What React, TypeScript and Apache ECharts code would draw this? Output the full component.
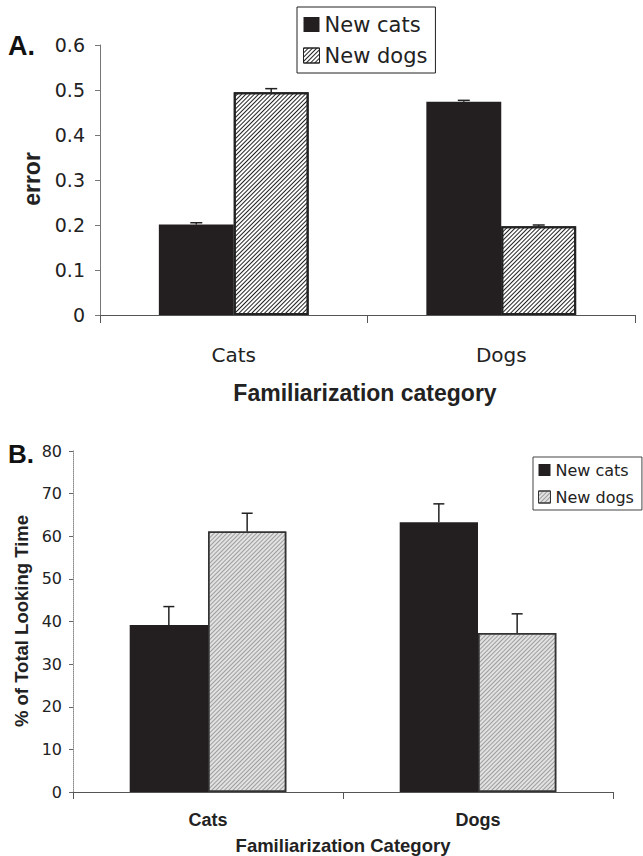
import React, { useEffect, useRef } from "react";
import * as echarts from "echarts";

const categories = ["Cats", "Dogs"];
const seriesNames = ["New cats", "New dogs"];

// Panel A: error
const errorNewCats = [0.201, 0.474];
const errorNewCatsSE = [0.004, 0.003];
const errorNewDogs = [0.495, 0.197];
const errorNewDogsSE = [0.008, 0.003];

// Panel B: % of total looking time
const lookNewCats = [39.2, 63.3];
const lookNewCatsSE = [4.3, 4.3];
const lookNewDogs = [61.1, 37.3];
const lookNewDogsSE = [4.3, 4.5];

const REG = "DejaVu Sans";
const BOLD = "Liberation Sans";
const INK = "#231f20";

const hatchA = {
  symbol: "rect",
  dashArrayX: [1, 0],
  dashArrayY: [1, 1.2],
  rotation: -Math.PI / 4,
  color: "#222",
};
const hatchB = {
  symbol: "rect",
  dashArrayX: [1, 0],
  dashArrayY: [1, 1.2],
  rotation: -Math.PI / 4,
  color: "rgba(90,90,90,0.5)",
};

function errSeries(
  name: string,
  xAxisIndex: number,
  vals: number[],
  errs: number[],
  side: number,
  gap: number,
  cap: number
) {
  return {
    type: "custom",
    name: name + " SE",
    xAxisIndex,
    yAxisIndex: xAxisIndex,
    z: 5,
    silent: true,
    data: vals.map((v, i) => [i, v, errs[i]]),
    renderItem: (params: any, api: any) => {
      const i = api.value(0);
      const v = api.value(1);
      const e = api.value(2);
      const band = api.size([1, 0])[0];
      const barW = (band * (1 - gap)) / 2;
      const p0 = api.coord([i, v]);
      const p1 = api.coord([i, v + e]);
      const x = p0[0] + (side * barW) / 2;
      return {
        type: "group",
        children: [
          {
            type: "line",
            shape: { x1: x, y1: p0[1], x2: x, y2: p1[1] },
            style: { stroke: "#222", lineWidth: 1.5 },
          },
          {
            type: "line",
            shape: { x1: x - cap / 2, y1: p1[1], x2: x + cap / 2, y2: p1[1] },
            style: { stroke: "#222", lineWidth: 1.5 },
          },
        ],
      };
    },
  };
}

export default function App() {
  const ref = useRef<HTMLDivElement>(null);
  useEffect(() => {
    if (!ref.current) return;
    const chart = echarts.init(ref.current, null, { renderer: "svg" });
    const gapA = 0.44;
    const gapB = 0.42;
    chart.setOption({
      animation: false,
      backgroundColor: "#fff",
      grid: [
        { left: 100, top: 45, width: 535, height: 270 },
        { left: 73, top: 451, width: 540, height: 341 },
      ],
      legend: [
        {
          left: 297,
          top: 7,
          orient: "vertical",
          icon: "rect",
          itemWidth: 16,
          itemHeight: 15,
          itemGap: 10,
          padding: [7, 8, 7, 6],
          borderColor: "#222",
          borderWidth: 1,
          textStyle: { fontFamily: REG, fontSize: 21, color: "#222" },
          data: [
            { name: "New cats", icon: "rect", itemStyle: { color: INK, borderWidth: 0 } },
            {
              name: "New dogs",
              icon: "rect",
              itemStyle: { color: "#fff", decal: hatchA, borderColor: "#222", borderWidth: 1 },
            },
          ],
        },
        {
          left: 533,
          top: 457,
          orient: "vertical",
          icon: "rect",
          itemWidth: 12,
          itemHeight: 12,
          itemGap: 11,
          padding: [5, 8, 5, 5],
          borderColor: "#444",
          borderWidth: 1,
          textStyle: { fontFamily: REG, fontSize: 16, color: "#222" },
          data: [
            { name: "New cats", icon: "rect", itemStyle: { color: INK, borderWidth: 0 } },
            {
              name: "New dogs",
              icon: "rect",
              itemStyle: { color: "#e2e2e2", decal: hatchB, borderColor: "#333", borderWidth: 1 },
            },
          ],
        },
      ],
      xAxis: [
        {
          type: "category",
          gridIndex: 0,
          data: categories,
          axisLine: { lineStyle: { color: "#555", width: 1 } },
          axisTick: { show: true, alignWithLabel: false, length: 8, lineStyle: { color: "#555" } },
          axisLabel: { fontFamily: REG, fontSize: 20, color: "#222", margin: 30 },
        },
        {
          type: "category",
          gridIndex: 1,
          data: categories,
          axisLine: { lineStyle: { color: "#555", width: 1 } },
          axisTick: { show: true, alignWithLabel: false, length: 7, lineStyle: { color: "#555" } },
          axisLabel: { fontFamily: BOLD, fontWeight: "bold", fontSize: 18, color: "#222", margin: 19 },
        },
      ],
      yAxis: [
        {
          type: "value",
          gridIndex: 0,
          min: 0,
          max: 0.6,
          interval: 0.1,
          splitLine: { show: false },
          axisLine: { show: true, lineStyle: { color: "#777", width: 1 } },
          axisTick: { show: true, length: 5, lineStyle: { color: "#777" } },
          axisLabel: {
            fontFamily: REG,
            fontSize: 19,
            color: "#222",
            margin: 15,
            formatter: (v: number) => (v === 0 ? "0" : v.toFixed(1)),
          },
        },
        {
          type: "value",
          gridIndex: 1,
          min: 0,
          max: 80,
          interval: 10,
          splitLine: { show: false },
          axisLine: { show: true, lineStyle: { color: "#888", width: 1, type: "dotted" } },
          axisTick: { show: true, length: 4, lineStyle: { color: "#666" } },
          axisLabel: { fontFamily: REG, fontSize: 16, color: "#222", margin: 11 },
        },
      ],
      series: [
        {
          type: "bar",
          name: seriesNames[0],
          xAxisIndex: 0,
          yAxisIndex: 0,
          data: errorNewCats,
          barGap: "0%",
          barCategoryGap: "44%",
          itemStyle: { color: INK },
        },
        {
          type: "bar",
          name: seriesNames[1],
          xAxisIndex: 0,
          yAxisIndex: 0,
          data: errorNewDogs,
          barGap: "0%",
          barCategoryGap: "44%",
          itemStyle: { color: "#fff", decal: hatchA, borderColor: "#222", borderWidth: 2 },
        },
        {
          type: "bar",
          name: seriesNames[0],
          xAxisIndex: 1,
          yAxisIndex: 1,
          data: lookNewCats,
          barGap: "0%",
          barCategoryGap: "42%",
          itemStyle: { color: INK },
        },
        {
          type: "bar",
          name: seriesNames[1],
          xAxisIndex: 1,
          yAxisIndex: 1,
          data: lookNewDogs,
          barGap: "0%",
          barCategoryGap: "42%",
          itemStyle: { color: "#e2e2e2", decal: hatchB, borderColor: "#333", borderWidth: 1.5 },
        },
        errSeries(seriesNames[0], 0, errorNewCats, errorNewCatsSE, -1, gapA, 12),
        errSeries(seriesNames[1], 0, errorNewDogs, errorNewDogsSE, 1, gapA, 12),
        errSeries(seriesNames[0], 1, lookNewCats, lookNewCatsSE, -1, gapB, 11),
        errSeries(seriesNames[1], 1, lookNewDogs, lookNewDogsSE, 1, gapB, 11),
      ],
      graphic: [
        {
          type: "text",
          x: 8,
          y: 46,
          style: { text: "A.", font: `bold 27px '${BOLD}'`, fill: "#111", textVerticalAlign: "middle" },
        },
        {
          type: "text",
          x: 32,
          y: 179,
          rotation: Math.PI / 2,
          style: {
            text: "error",
            font: `bold 23px '${BOLD}'`,
            fill: "#222",
            textAlign: "center",
            textVerticalAlign: "middle",
          },
        },
        {
          type: "text",
          x: 365,
          y: 393,
          style: {
            text: "Familiarization category",
            font: `bold 23px '${BOLD}'`,
            fill: "#222",
            textAlign: "center",
            textVerticalAlign: "middle",
          },
        },
        {
          type: "text",
          x: 8,
          y: 454,
          style: { text: "B.", font: `bold 26px '${BOLD}'`, fill: "#111", textVerticalAlign: "middle" },
        },
        {
          type: "text",
          x: 21,
          y: 621,
          rotation: Math.PI / 2,
          style: {
            text: "% of Total Looking Time",
            font: `bold 18.5px '${BOLD}'`,
            fill: "#222",
            textAlign: "center",
            textVerticalAlign: "middle",
          },
        },
        {
          type: "text",
          x: 343,
          y: 845,
          style: {
            text: "Familiarization Category",
            font: `bold 18.5px '${BOLD}'`,
            fill: "#222",
            textAlign: "center",
            textVerticalAlign: "middle",
          },
        },
      ],
    });
    return () => chart.dispose();
  }, []);
  return (
    <div
      ref={ref}
      style={{ position: "absolute", left: 0, top: 0, width: 643, height: 856 }}
    />
  );
}
